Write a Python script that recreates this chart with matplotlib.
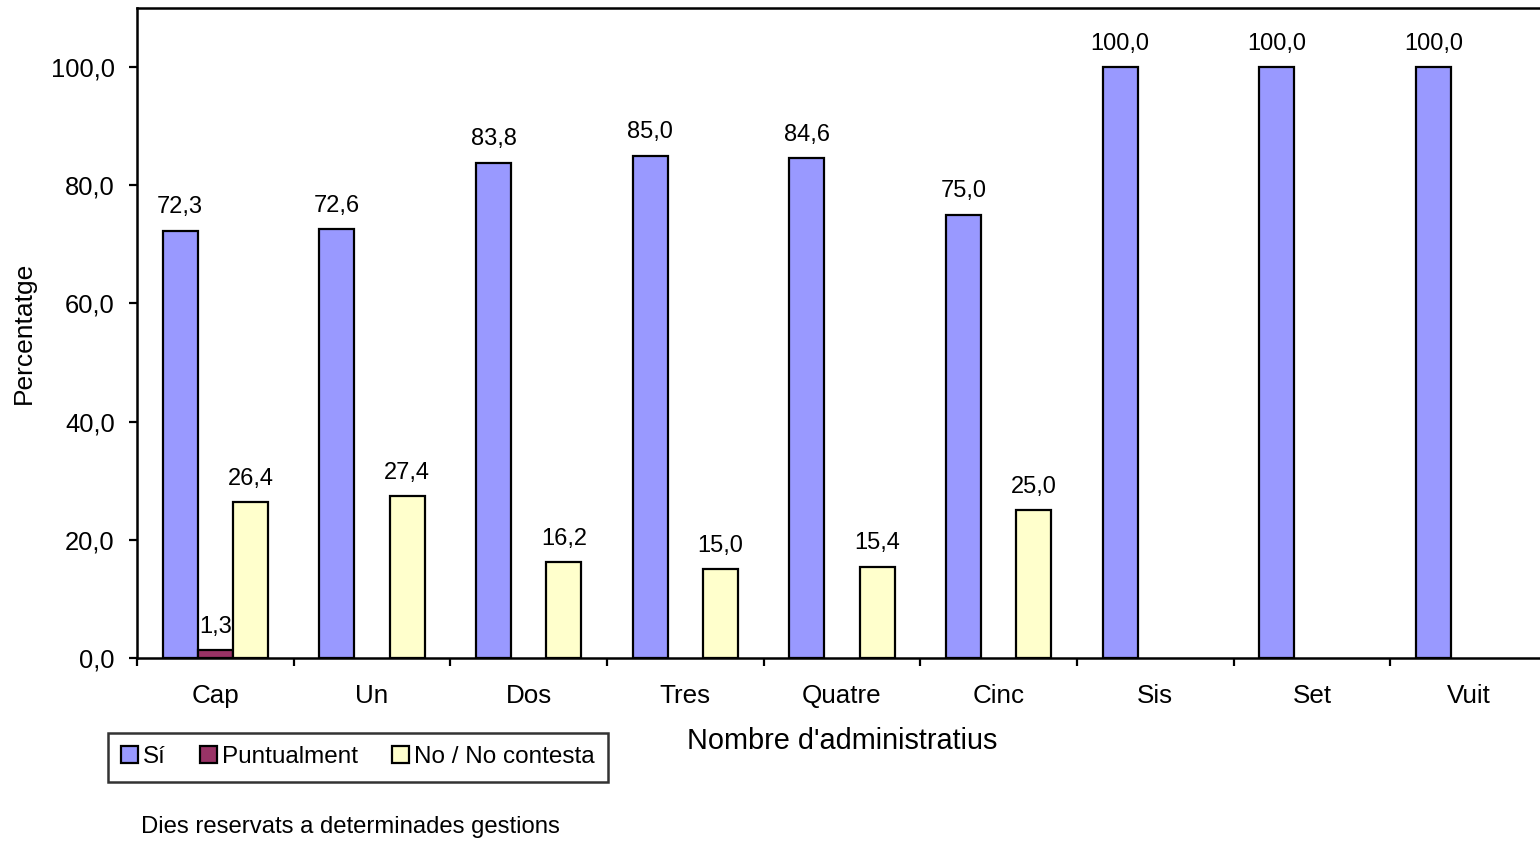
import matplotlib
matplotlib.use("Agg")
import matplotlib.pyplot as plt
import numpy as np
from matplotlib.ticker import FixedLocator, FuncFormatter

plt.rcParams['font.family'] = ['Liberation Sans', 'DejaVu Sans']

categories = ["Cap", "Un", "Dos", "Tres", "Quatre", "Cinc", "Sis", "Set", "Vuit"]
si = [72.3, 72.6, 83.8, 85.0, 84.6, 75.0, 100.0, 100.0, 100.0]
puntualment = [1.3, 0, 0, 0, 0, 0, 0, 0, 0]
no_contesta = [26.4, 27.4, 16.2, 15.0, 15.4, 25.0, 0, 0, 0]
series_names = ["Sí", "Puntualment", "No / No contesta"]
colors = ["#9999FF", "#993366", "#FFFFCC"]

W, H = 1540, 843
fig = plt.figure(figsize=(W / 100, H / 100), dpi=100)
ax = fig.add_axes([137 / W, (843 - 658) / H, 1410 / W, 650 / H])

x = np.arange(len(categories))
width = 0.224

for i, (vals, name, col) in enumerate(zip([si, puntualment, no_contesta], series_names, colors)):
    vals = np.array(vals, dtype=float)
    pos = x + (i - 1) * width
    mask = vals > 0
    bars = ax.bar(pos[mask], vals[mask], width, color=col, edgecolor="black",
                  linewidth=1.6, label=name, zorder=3)
    for b, v in zip(bars, vals[mask]):
        ax.annotate(f"{v:.1f}".replace(".", ","),
                    (b.get_x() + b.get_width() / 2, v),
                    xytext=(0, 9), textcoords="offset points",
                    ha="center", va="bottom", fontsize=17)

ax.set_xlim(-0.5, len(categories) - 0.5)
ax.set_ylim(0, 110)
ax.set_yticks(np.arange(0, 101, 20))
ax.yaxis.set_major_formatter(FuncFormatter(lambda v, p: f"{v:.1f}".replace(".", ",")))

ax.set_xticks(x)
ax.set_xticklabels(categories)
ax.xaxis.set_minor_locator(FixedLocator(np.arange(-0.5, len(categories), 1.0)))
ax.tick_params(axis="x", which="major", length=0, pad=19, labelsize=18.7)
ax.tick_params(axis="x", which="minor", length=6, width=1.6, direction="out")
ax.tick_params(axis="y", which="major", length=6, width=1.6, direction="out",
               pad=10, labelsize=18.4)

for s in ax.spines.values():
    s.set_linewidth(1.8)
    s.set_color("black")

ax.set_xlabel("Nombre d'administratius", fontsize=20.8)
ax.xaxis.set_label_coords(0.5, -0.127)
ax.xaxis.label.set_va("center")
ax.set_ylabel("Percentatge", fontsize=19)
ax.yaxis.set_label_coords(-0.080, 0.5)
ax.yaxis.label.set_va("center")

leg = fig.legend(loc="upper left", bbox_to_anchor=(108 / W, 1 - 733 / H),
                 ncol=3, fontsize=17.5, frameon=True, fancybox=False,
                 borderaxespad=0, handlelength=0.7, handleheight=0.7,
                 handletextpad=0.2, columnspacing=1.4, borderpad=0.55)
leg.get_frame().set_edgecolor("black")
leg.get_frame().set_linewidth(1.8)

fig.text(141 / W, 1 - 827 / H, "Dies reservats a determinades gestions",
         fontsize=17.2, va="center", ha="left")

fig.savefig("out.png", dpi=100)
